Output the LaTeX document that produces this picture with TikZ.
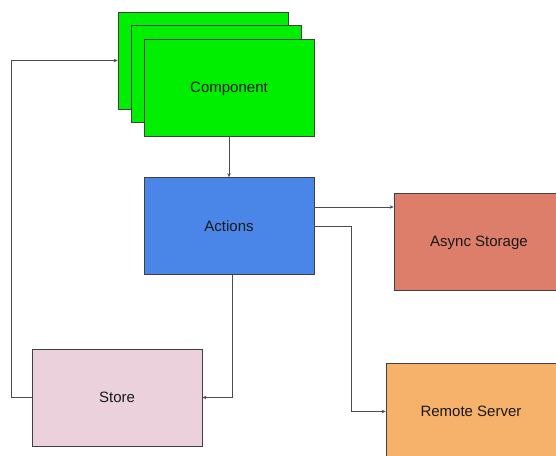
\documentclass[tikz,border=0pt]{standalone}
\usepackage{fontspec}
\setmainfont{Liberation Sans}
\usetikzlibrary{arrows.meta}
\definecolor{compgreen}{HTML}{00EE00}
\definecolor{actblue}{HTML}{4A86E8}
\definecolor{asyncred}{HTML}{DD7E6B}
\definecolor{remoteorange}{HTML}{F6B26B}
\definecolor{storepink}{HTML}{EAD1DC}
\begin{document}
\begin{tikzpicture}[x=1pt,y=-1pt,
  box/.style={draw=black!75,line width=0.7pt,minimum width=170pt,minimum height=97pt,
    inner sep=0pt,text depth=0pt,text=black!90,font=\fontsize{15}{18}\selectfont},
  link/.style={draw=black!70,line width=0.7pt,-{Stealth[length=4pt,width=3.5pt]}}]
\path [use as bounding box,clip] (0,0) rectangle (556,455);
\node [box,fill=compgreen] (back) at (203,60.5) {};
\node [box,fill=compgreen] (mid)  at (216,73.5) {};
\node [box,fill=compgreen] (comp) at (229,87.5) {Component};
\node [box,fill=actblue]   (act)  at (229,226)  {Actions};
\node [box,fill=asyncred]  (async)  at (479,241.5) {Async Storage};
\node [box,fill=remoteorange] (remote) at (471,411.5) {Remote Server};
\node [box,fill=storepink] (store) at (117,397.5) {Store};
\coordinate (toasync) at ([yshift=19pt]act.east);
\draw [link] (comp) -- (act);
\draw [link] (toasync) -- (toasync -| async.west);
\draw [link] (act.east) -- ++(37,0) |- (remote.west);
\draw [link] ([xshift=3pt]act.south) |- (store.east);
\draw [link] (store.west) -- ++(-20,0) |- (back.west);
\end{tikzpicture}
\end{document}
